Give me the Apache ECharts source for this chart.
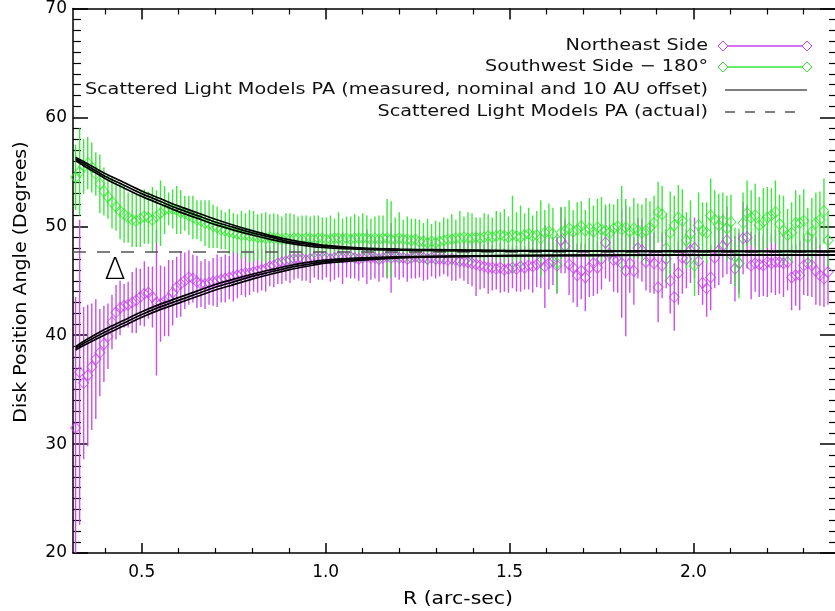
<!DOCTYPE html>
<html><head><meta charset="utf-8">
<script src="https://cdn.jsdelivr.net/npm/echarts@6/dist/echarts.min.js"></script>
<style>html,body{margin:0;padding:0;background:#fff}#c{width:835px;height:611px}</style>
</head><body><div id="c"></div>
<script>
// ---------- DATA ----------
const R = [
0.320,0.331,0.342,0.353,0.364,0.375,0.386,0.397,0.408,0.419,
0.430,0.441,0.452,0.463,0.474,0.485,0.496,0.507,0.518,0.529,
0.540,0.551,0.562,0.573,0.584,0.595,0.606,0.617,0.628,0.639,
0.650,0.661,0.672,0.683,0.694,0.705,0.716,0.727,0.738,0.749,
0.760,0.771,0.782,0.793,0.804,0.815,0.826,0.837,0.848,0.859,
0.870,0.881,0.892,0.903,0.914,0.925,0.936,0.947,0.958,0.969,
0.980,0.991,1.002,1.013,1.024,1.035,1.046,1.057,1.068,1.079,
1.090,1.101,1.112,1.123,1.134,1.145,1.156,1.167,1.178,1.189,
1.200,1.211,1.222,1.233,1.244,1.255,1.266,1.277,1.288,1.299,
1.310,1.321,1.332,1.343,1.354,1.365,1.376,1.387,1.398,1.409,
1.420,1.431,1.442,1.453,1.464,1.475,1.486,1.497,1.508,1.519,
1.530,1.541,1.552,1.563,1.574,1.585,1.596,1.607,1.618,1.629,
1.640,1.651,1.662,1.673,1.684,1.695,1.706,1.717,1.728,1.739,
1.750,1.761,1.772,1.783,1.794,1.805,1.816,1.827,1.838,1.849,
1.860,1.871,1.882,1.893,1.904,1.915,1.926,1.937,1.948,1.959,
1.970,1.981,1.992,2.003,2.014,2.025,2.036,2.047,2.058,2.069,
2.080,2.091,2.102,2.113,2.124,2.135,2.146,2.157,2.168,2.179,
2.190,2.201,2.212,2.223,2.234,2.245,2.256,2.267,2.278,2.289,
2.300,2.311,2.322,2.333,2.344,2.355,2.366];

// Northeast side PA (deg)
const neVal = [
31.5,36.6,35.6,36.3,37.1,37.8,38.4,39.2,39.9,41.2,
42.1,42.5,42.7,42.8,43.0,43.2,43.5,43.8,43.9,43.5,
43.0,42.9,43.1,43.4,43.9,44.4,44.7,45.0,45.3,45.2,
44.9,44.7,44.7,44.8,44.9,45.0,45.1,45.2,45.3,45.4,
45.5,45.6,45.7,45.7,45.8,45.9,46.0,46.1,46.3,46.4,
46.6,46.7,46.8,46.9,47.0,47.0,47.0,46.9,47.0,47.1,
47.0,47.1,47.1,47.0,47.1,47.2,47.1,47.1,47.2,47.1,
47.0,47.1,47.2,47.1,47.1,47.0,47.1,47.2,47.1,47.2,
47.1,47.1,47.0,47.1,47.2,47.1,47.1,47.0,47.1,47.0,
47.0,47.0,46.9,47.0,46.9,46.8,46.8,46.7,46.6,46.5,
46.4,46.3,46.2,46.2,46.1,46.2,46.0,46.1,46.2,46.1,
46.3,46.2,46.4,46.3,46.5,46.8,46.3,46.6,46.8,46.4,
48.7,48.2,46.5,46.2,45.5,45.9,45.3,46.2,46.6,46.2,
47.0,48.5,47.5,46.9,46.9,46.6,45.9,46.6,45.9,48.0,
47.8,46.7,47.1,46.6,44.4,46.4,47.0,45.0,43.5,45.7,
47.1,47.0,47.8,48.0,46.8,44.8,44.3,45.3,47.1,47.8,
48.2,48.7,47.4,46.1,46.6,48.9,49.0,46.4,46.6,46.5,
46.4,46.7,46.6,46.7,46.7,46.6,46.7,45.3,45.5,45.5,
46.4,46.6,46.4,45.9,45.5,45.2,45.8];
const neErr = [
12,14,7,6.5,5.8,5.5,4,3.5,3,2.5,
2.5,2.5,2.0,2.1,2.8,3.0,2.6,3.0,2.4,2.8,
6.7,3.5,3.2,3.5,3.0,2.8,3.0,2.6,2.5,2.2,
2.4,2.1,2.3,2.0,2.2,2.4,2.1,2.2,2.0,2.3,
2.1,1.9,2.2,2.0,1.8,2.0,1.9,2.1,1.8,2.0,
1.9,2.0,1.8,2.1,1.9,1.8,2.0,1.9,2.2,1.8,
1.9,2.0,1.8,2.1,2.0,1.9,2.4,1.8,2.0,1.9,
2.0,1.8,2.5,2.0,1.9,2.1,1.8,2.0,3.2,1.9,
2.0,1.8,2.1,1.9,2.0,1.8,2.1,1.9,1.7,1.8,
1.6,1.4,1.5,2.0,1.9,1.6,1.8,2.0,2.1,2.9,
2.2,2.0,2.4,2.1,1.9,2.3,2.0,2.2,1.9,2.1,
2.3,2.0,2.2,2.4,2.1,2.5,3.8,2.4,2.2,2.6,
3.0,2.5,2.8,3.2,2.9,2.6,3.1,2.7,3.0,2.4,
2.8,3.3,2.6,2.9,3.0,5.0,6.0,2.7,3.1,2.8,
2.9,2.6,3.2,2.8,3.2,3.0,2.7,3.0,3.1,2.9,
3.3,2.7,3.0,2.8,3.1,2.0,2.6,3.0,2.8,3.2,
2.9,3.1,2.7,3.0,2.8,3.3,2.9,3.1,2.6,3.0,
2.8,3.2,2.7,3.0,2.9,3.1,2.6,3.0,2.8,3.2,
2.7,3.0,2.9,3.1,2.8,2.6,3.0];

// Southwest side PA - 180 (deg)
const swVal = [
54.5,55.0,55.5,55.8,55.4,54.8,53.9,53.2,52.7,52.2,
51.8,51.4,51.1,50.8,50.6,50.5,50.7,50.9,50.8,50.6,
50.9,51.2,51.5,51.6,51.6,51.5,51.3,51.2,51.0,50.8,
50.6,50.5,50.3,50.2,50.0,49.9,49.7,49.6,49.5,49.4,
49.3,49.2,49.2,49.1,49.1,49.0,49.0,48.9,49.0,48.9,
48.9,48.8,48.9,48.8,48.9,48.9,48.8,48.9,48.9,48.8,
48.9,48.9,48.8,48.8,48.9,48.9,48.8,48.9,48.8,48.9,
48.9,48.9,48.9,48.8,48.9,48.8,48.9,48.9,48.8,48.8,
48.9,48.8,48.8,48.7,48.8,48.6,48.6,48.5,48.6,48.5,
48.6,48.7,48.8,48.8,48.9,48.9,49.0,48.9,48.9,49.0,
48.9,49.0,49.1,49.0,49.1,49.2,49.1,49.0,49.2,49.1,
49.0,49.2,49.3,49.1,49.2,48.9,49.4,49.5,49.3,46.6,
49.4,49.6,49.8,49.5,49.7,50.0,49.6,49.8,49.5,49.9,
49.7,49.6,49.4,49.8,50.0,49.7,49.9,49.5,49.8,49.6,
49.4,49.6,49.9,50.3,51.3,51.1,48.0,49.4,50.1,50.8,
50.5,48.7,49.3,46.4,50.1,49.6,49.4,51.0,50.6,50.1,
50.5,49.8,50.4,47.2,46.6,50.3,51.2,50.8,51.0,50.1,
50.4,50.8,51.0,51.3,50.2,49.6,49.2,49.4,50.3,50.3,
50.5,49.0,49.5,50.3,50.6,51.4,48.7];
const swErr = [
3.0,4.0,2.5,2.4,2.3,2.0,2.7,2.2,2.0,2.4,
2.2,2.6,2.6,2.3,2.5,2.4,2.6,2.5,2.4,3.0,
2.4,3.0,2.2,1.5,1.8,2.2,2.0,1.6,1.8,2.0,
1.8,1.9,2.1,2.2,2.0,1.9,1.8,1.7,2.1,1.8,
1.8,2.2,2.0,2.4,2.3,2.1,2.2,2.4,2.1,2.3,
2.2,2.1,2.3,2.4,2.2,2.0,2.2,2.1,2.0,2.2,
2.1,1.9,2.0,2.2,1.8,2.4,1.9,2.0,2.1,2.2,
2.0,2.3,2.1,1.9,2.0,2.2,2.1,3.6,3.5,2.0,
2.4,1.8,2.1,2.0,1.9,2.0,1.7,2.2,1.6,2.0,
1.8,2.1,1.9,2.3,1.7,2.5,1.9,2.4,2.3,1.8,
1.9,2.2,2.0,1.8,2.3,2.1,2.5,1.9,3.6,2.2,
2.9,2.0,2.4,1.9,2.2,3.5,2.1,2.6,2.4,2.7,
2.4,2.2,2.6,2.0,2.5,2.3,1.9,2.8,2.4,2.6,
3.0,2.4,2.7,2.2,2.5,4.0,2.6,2.3,2.8,2.5,
2.6,3.0,2.4,2.5,2.8,2.6,3.2,3.8,2.7,3.0,
2.9,2.6,3.1,2.8,3.0,2.6,2.8,3.4,2.7,2.9,
2.6,3.0,2.5,2.7,3.2,2.8,3.0,2.5,2.9,2.6,
3.1,2.8,2.5,2.9,2.7,3.2,2.4,2.8,3.0,2.6,
2.9,2.7,3.1,2.8,2.6,3.0,2.7];

// Scattered light model PA curves (measured, nominal, 10 AU offset)
const modelR     = [0.32,0.35,0.40,0.45,0.50,0.55,0.60,0.65,0.70,0.75,0.80,0.85,0.90,0.95,1.00,1.10,1.20,1.30,1.50,1.70,1.90,2.10,2.385];
const swModelHi  = [56.35,55.8,54.85,54.05,53.25,52.55,51.85,51.25,50.65,50.1,49.6,49.15,48.78,48.48,48.24,48.0,47.9,47.85,47.78,47.74,47.72,47.71,47.7];
const swModelNom = [56.2,55.6,54.6,53.8,53.0,52.3,51.6,51.0,50.4,49.9,49.4,49.0,48.6,48.35,48.15,47.95,47.85,47.8,47.75,47.72,47.7,47.7,47.7];
const swModelLo  = [56.05,55.4,54.4,53.55,52.75,52.05,51.35,50.75,50.15,49.65,49.2,48.8,48.45,48.2,48.03,47.87,47.8,47.76,47.73,47.71,47.7,47.7,47.7];
const neModelHi  = [38.95,39.6,40.55,41.35,42.15,42.85,43.45,44.05,44.65,45.15,45.6,46.0,46.38,46.68,46.9,47.1,47.2,47.25,47.32,47.35,47.36,47.37,47.38];
const neModelNom = [38.8,39.4,40.3,41.1,41.9,42.6,43.2,43.8,44.4,44.9,45.4,45.8,46.2,46.5,46.75,47.0,47.15,47.22,47.3,47.33,47.35,47.36,47.37];
const neModelLo  = [38.65,39.2,40.05,40.85,41.65,42.35,42.95,43.55,44.15,44.65,45.15,45.6,46.0,46.33,46.62,46.9,47.09,47.18,47.28,47.31,47.34,47.35,47.36];
const actualPA = 47.7;

const xMajor = [0.5, 1.0, 1.5, 2.0];
const xMinor = [0.4,0.6,0.7,0.8,0.9,1.1,1.2,1.3,1.4,1.6,1.7,1.8,1.9,2.1,2.2,2.3];
const legendLabels = [
  'Northeast Side',
  'Southwest Side \u2212 180\u00b0',
  'Scattered Light Models PA (measured, nominal and 10 AU offset)',
  'Scattered Light Models PA (actual)'
];
const annotationText = '\u0394';
const xTitle = 'R (arc-sec)';
const yTitle = 'Disk Position Angle (Degrees)';

// ---------- STYLE ----------
const FONT = 'DejaVu Sans';
const NE_COLOR = '#C646EC';
const SW_COLOR = '#33E633';
const XMIN = 0.313, XMAX = 2.385;

function pts(xs, vals){ return xs.map((r,i)=>[r, vals[i]]); }
function errSeries(vals, errs, color){
  return {
    type:'custom', clip:true, silent:true, z:2,
    data: R.map((r,i)=>[r, vals[i]-errs[i], vals[i]+errs[i]]),
    encode:{x:0, y:[1,2]},
    renderItem(params, api){
      const x = api.value(0);
      const p1 = api.coord([x, api.value(1)]);
      const p2 = api.coord([x, api.value(2)]);
      return {type:'line', shape:{x1:p1[0], y1:p1[1], x2:p2[0], y2:p2[1]},
              style:{stroke:color, lineWidth:1.4, opacity:0.95}};
    }
  };
}
function scatterSeries(vals, color){
  return {type:'scatter', data: pts(R, vals), symbol:'diamond', symbolSize:[10,11], clip:true, z:3,
          itemStyle:{color:'rgba(0,0,0,0)', borderColor:color, borderWidth:1}, silent:true};
}
function modelSeries(vals){
  return {type:'line', data: pts(modelR, vals), showSymbol:false, smooth:0.3, z:5, silent:true,
          lineStyle:{color:'#000', width:1.7}};
}

const chart = echarts.init(document.getElementById('c'), null, {renderer:'canvas'});

const axisLineStyle = {color:'#000', width:1.5};
const gridW = (XMAX - XMIN) * 369.8;

// legend + titles as text graphics
const legY = [46, 67, 90, 112];
const textRight = 708;
const graphics = [];
function diamond(x, y, color){
  return {type:'polygon', shape:{points:[[x,y-5],[x+5,y],[x,y+5],[x-5,y]]},
          style:{fill:'none', stroke:color, lineWidth:1}, z:10};
}
legendLabels.forEach((t, i) => {
  graphics.push({type:'text', x:textRight, y:legY[i], scaleX:1.2, z:10,
    style:{text:t, font:'16px "' + FONT + '"', fill:'#111', textAlign:'right', textVerticalAlign:'middle'}});
});
[[NE_COLOR,0],[SW_COLOR,1]].forEach(([c,i]) => {
  graphics.push({type:'line', shape:{x1:728, y1:legY[i], x2:802, y2:legY[i]}, style:{stroke:c, lineWidth:1.5}, z:10});
  graphics.push(diamond(723, legY[i], c));
  graphics.push(diamond(807, legY[i], c));
});
graphics.push({type:'line', shape:{x1:725, y1:legY[2], x2:807, y2:legY[2]}, style:{stroke:'#000', lineWidth:1.2}, z:10});
graphics.push({type:'line', shape:{x1:725, y1:legY[3], x2:797, y2:legY[3]}, style:{stroke:'#000', lineWidth:1.2, lineDash:[10,10]}, z:10});
graphics.push({type:'text', x:115, y:271, z:10,
  style:{text:annotationText, font:'200 31px "DejaVu Sans"', fill:'#000', textAlign:'center', textVerticalAlign:'middle'}});
graphics.push({type:'text', x:458, y:600, scaleX:1.2, z:10,
  style:{text:xTitle, font:'17px "' + FONT + '"', fill:'#000', textAlign:'center', textVerticalAlign:'middle'}});
graphics.push({type:'text', x:22, y:282, rotation:Math.PI/2, scaleX:1.12, z:10,
  style:{text:yTitle, font:'17px "' + FONT + '"', fill:'#000', textAlign:'center', textVerticalAlign:'middle'}});

const option = {
  animation:false,
  backgroundColor:'#fff',
  grid:{left:73, top:7.5, width:gridW, height:545.5},
  xAxis:[
    {type:'value', min:XMIN, max:XMAX, position:'bottom',
     axisLine:{show:true, lineStyle:axisLineStyle},
     axisTick:{show:true, inside:true, length:10, customValues:xMajor, lineStyle:{color:'#000', width:1.5}},
     axisLabel:{show:true, customValues:xMajor, formatter:(v)=>v.toFixed(1), margin:11,
                fontFamily:FONT, fontSize:17, color:'#000'},
     splitLine:{show:false}, minorTick:{show:false}},
    {type:'value', min:XMIN, max:XMAX, position:'bottom',
     axisLine:{show:false},
     axisTick:{show:true, inside:true, length:5, customValues:xMinor, lineStyle:{color:'#000', width:1.2}},
     axisLabel:{show:false}, splitLine:{show:false}},
    {type:'value', min:XMIN, max:XMAX, position:'top',
     axisLine:{show:true, lineStyle:axisLineStyle},
     axisTick:{show:true, inside:true, length:11, customValues:xMajor, lineStyle:{color:'#000', width:1.5}},
     axisLabel:{show:false}, splitLine:{show:false}},
    {type:'value', min:XMIN, max:XMAX, position:'top',
     axisLine:{show:false},
     axisTick:{show:true, inside:true, length:6, customValues:xMinor, lineStyle:{color:'#000', width:1.2}},
     axisLabel:{show:false}, splitLine:{show:false}}
  ],
  yAxis:[
    {type:'value', min:20, max:70, interval:10, position:'left',
     axisLine:{show:true, lineStyle:axisLineStyle},
     axisTick:{show:true, inside:true, length:15, lineStyle:{color:'#000', width:1.5}},
     minorTick:{show:true, splitNumber:10, length:8, lineStyle:{color:'#000', width:1.2}},
     axisLabel:{show:true, margin:6, fontFamily:FONT, fontSize:17, color:'#000'},
     splitLine:{show:false}},
    {type:'value', min:20, max:70, interval:10, position:'right',
     axisLine:{show:false},
     axisTick:{show:true, inside:true, length:15, lineStyle:{color:'#000', width:1.5}},
     minorTick:{show:true, splitNumber:10, length:6, lineStyle:{color:'#000', width:1.2}},
     axisLabel:{show:false}, splitLine:{show:false}}
  ],
  series:[
    errSeries(neVal, neErr, NE_COLOR),
    scatterSeries(neVal, NE_COLOR),
    errSeries(swVal, swErr, SW_COLOR),
    scatterSeries(swVal, SW_COLOR),
    {type:'line', data:[], silent:true, z:4,
     markLine:{silent:true, symbol:'none', label:{show:false}, animation:false,
       lineStyle:{color:'#555', width:1.5, type:[13,11]},
       data:[{yAxis:actualPA}]}},
    modelSeries(swModelHi), modelSeries(swModelNom), modelSeries(swModelLo),
    modelSeries(neModelHi), modelSeries(neModelNom), modelSeries(neModelLo)
  ],
  graphic: graphics
};
chart.setOption(option);
</script>
</body></html>
